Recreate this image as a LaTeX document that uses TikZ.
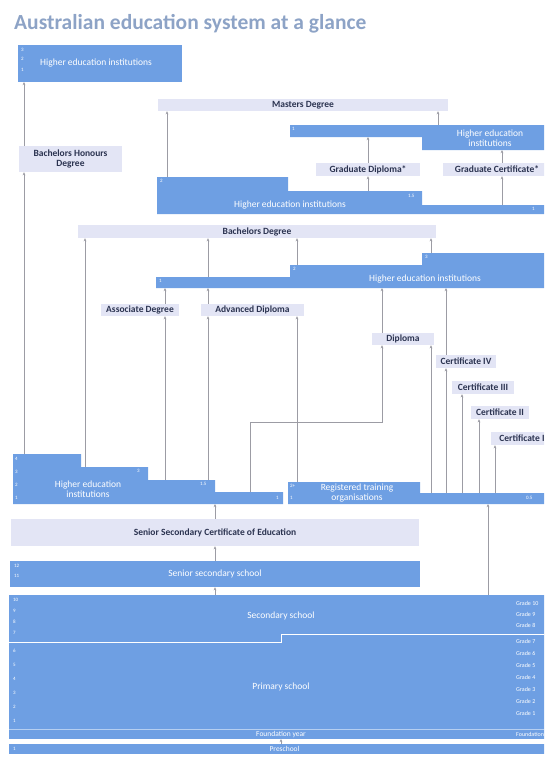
\documentclass[tikz,border=0pt]{standalone}
\usepackage{fontspec}
\setmainfont{Carlito}
\usepackage{tikz}
\usetikzlibrary{arrows.meta,calc}
\definecolor{instBlue}{HTML}{6E9FE3}
\definecolor{awardLav}{HTML}{E3E5F5}
\definecolor{awardText}{HTML}{2B3350}
\definecolor{linkGrey}{HTML}{9C9CA4}
\definecolor{titleGrey}{HTML}{8DA3C6}

\begin{document}
\begin{tikzpicture}[x=1pt, y=-1pt,
  award/.style={fill=awardLav, text=awardText, font=\fontsize{9.5}{10}\selectfont\bfseries, inner sep=0pt, align=center},
  inst/.style={text=white, font=\fontsize{9.5}{10}\selectfont, inner sep=0pt, align=center},
  band/.style={text=white, font=\fontsize{7.5}{8}\selectfont, inner sep=0pt, align=center},
  yrs/.style={text=white, font=\fontsize{5}{5}\selectfont, inner sep=0pt, anchor=west},
  grade/.style={text=white, font=\fontsize{6}{6}\selectfont, inner sep=0pt, anchor=west},
  link/.style={draw=linkGrey, line width=0.6pt, -{Stealth[length=3.2pt, width=2.8pt]}}]
  \useasboundingbox (0,0) rectangle (544,761);
  \clip (0,0) rectangle (544,761);

  \node[anchor=base west, inner sep=0pt, text=titleGrey, font=\fontsize{21.5}{23}\selectfont\bfseries] (title) at (14,29) {Australian education system at a glance};

  % Doctoral level
  \fill[instBlue] (18,45) rectangle (182,82);
  \node[inst] (phd) at (96,63) {Higher education institutions};
  \node[yrs] (phd3) at (21,50) {3};
  \node[yrs] (phd2) at (21,59) {2};
  \node[yrs] (phd1) at (21,70) {1};
  \coordinate (phdBot) at (24,82);

  % Masters level
  \node[award, minimum width=290, minimum height=12] (masters) at (303,105) {Masters Degree};
  \fill[instBlue] (290,125) -- (560,125) -- (560,150) -- (422,150) -- (422,137) -- (290,137) -- cycle;
  \node[inst] (upInst) at (490,138) {Higher education\\institutions};
  \node[yrs] (up1) at (292,129) {1};
  \coordinate (upA) at (438,125);
  \coordinate (upB) at (368,137);
  \coordinate (upC) at (502,150);

  \node[award, minimum width=104, minimum height=13] (gradDip) at (368,169.5) {Graduate Diploma*};
  \node[award, minimum width=108, minimum height=13] (gradCert) at (497,169.5) {Graduate Certificate*};

  \fill[instBlue] (157,177) -- (288,177) -- (288,191) -- (422,191) -- (422,205) -- (560,205) -- (560,214) -- (157,214) -- cycle;
  \node[inst] (wideInst) at (290,205) {Higher education institutions};
  \node[yrs] (wide2) at (160,181) {2};
  \node[yrs] (wide15) at (408,196) {1.5};
  \node[yrs] (wide1) at (532,209) {1};
  \coordinate (wideA) at (167,177);
  \coordinate (wideB) at (368,191);
  \coordinate (wideC) at (502,205);

  % Bachelors level
  \node[award, minimum width=103, minimum height=26] (honours) at (70.5,159) {Bachelors Honours\\Degree};
  \node[award, minimum width=358, minimum height=13] (bachelors) at (257,231.5) {Bachelors Degree};
  \fill[instBlue] (156,277) -- (290,277) -- (290,265) -- (422,265) -- (422,253) -- (560,253) -- (560,288) -- (156,288) -- cycle;
  \node[inst] (heiInst) at (425,279) {Higher education institutions};
  \node[yrs] (hei1) at (159,281) {1};
  \node[yrs] (hei2) at (293,269) {2};
  \node[yrs] (hei3) at (425,257) {3};
  \coordinate (heiA) at (208,277);
  \coordinate (heiB) at (297,265);
  \coordinate (heiC) at (431,253);
  \coordinate (heiBot) at (300,288);

  % Vocational awards
  \node[award, minimum width=78, minimum height=12] (assoc) at (140,310) {Associate Degree};
  \node[award, minimum width=103, minimum height=12] (advDip) at (252.5,310) {Advanced Diploma};
  \node[award, minimum width=62, minimum height=12] (diploma) at (403,339) {Diploma};
  \node[award, minimum width=60, minimum height=13] (certIV) at (466,361.5) {Certificate IV};
  \node[award, minimum width=62, minimum height=13] (certIII) at (483,387.5) {Certificate III};
  \node[award, minimum width=58, minimum height=13] (certII) at (500,412.5) {Certificate II};
  \node[award, minimum width=62, minimum height=13] (certI) at (522,438.5) {Certificate I};

  % Higher education (stepped) and RTO
  \fill[instBlue] (13,454) -- (81,454) -- (81,467) -- (148,467) -- (148,480) -- (215,480) -- (215,492) -- (283,492) -- (283,504) -- (13,504) -- cycle;
  \node[inst] (llInst) at (88,489) {Higher education\\institutions};
  \node[yrs] (ll4y) at (15,459) {4};
  \node[yrs] (ll3y) at (15,472) {3};
  \node[yrs] (ll2y) at (15,485) {2};
  \node[yrs] (ll1y) at (15,498) {1};
  \node[yrs] (llStep2) at (137,471) {3};
  \node[yrs] (llStep3) at (200,484) {1.5};
  \node[yrs] (llStep4) at (276,498) {1};
  \coordinate (ll1) at (24,454);
  \coordinate (ll2) at (85,467);
  \coordinate (ll3) at (165,480);
  \coordinate (ll4) at (208,480);
  \coordinate (ll5) at (250,492);
  \coordinate (llBot) at (215,504);
  \coordinate (dipL) at (382,422);

  \fill[instBlue] (288,482) -- (420,482) -- (420,493) -- (560,493) -- (560,504) -- (288,504) -- cycle;
  \node[inst] (rto) at (357,493) {Registered training\\organisations};
  \node[yrs] (rto2) at (290,486) {2+};
  \node[yrs] (rto1) at (290,498) {1};
  \node[yrs] (rto05) at (526,498) {0.5};
  \coordinate (rtoA) at (297,482);
  \coordinate (rtoB) at (431,493);
  \coordinate (rtoC4) at (446,493);
  \coordinate (rtoC3) at (462,493);
  \coordinate (rtoC2) at (479,493);
  \coordinate (rtoC1) at (495,493);
  \coordinate (rtoBot) at (488,504);

  % School
  \node[award, minimum width=408, minimum height=27] (ssce) at (215,532.5) {Senior Secondary Certificate of Education};
  \node[inst, fill=instBlue, minimum width=410, minimum height=26] (senSec) at (215,574) {Senior secondary school};
  \node[yrs] (sen12) at (14,566) {12};
  \node[yrs] (sen11) at (14,576) {11};

  \fill[instBlue] (9,595) rectangle (560,739);
  \draw[white, line width=0.8pt] (9,642) -- (281,642) -- (281,634) -- (560,634);
  \draw[white, opacity=0.5, line width=0.5pt] (9,729) -- (560,729);
  \node[inst] (secSchool) at (281,616) {Secondary school};
  \node[inst] (priSchool) at (281,687) {Primary school};
  \node[band] (foundYear) at (281,734.5) {Foundation year};
  \foreach \n/\y in {10/600, 9/611, 8/622, 7/633, 6/651, 5/665, 4/679, 3/693, 2/707, 1/721}
    \node[yrs] (yr\n) at (13,\y) {\n};
  \foreach \n/\y in {10/603, 9/614, 8/625, 7/641, 6/653, 5/665, 4/677, 3/689, 2/701, 1/713}
    \node[grade] (gr\n) at (516,\y) {Grade \n};
  \node[grade] (grF) at (516,734) {Foundation};
  \coordinate (bigTop) at (215,595);
  \coordinate (bigRto) at (488,595);
  \coordinate (bigBot) at (281,739);

  \node[band, fill=instBlue, minimum width=551, minimum height=10] (pre) at (284.5,749) {Preschool};
  \node[yrs] (pre1) at (13,749) {1};

  % Pathways
  \draw[link] (ll1) -- (ll1 |- honours.south);
  \draw[link] (ll1 |- honours.north) -- (phdBot);
  \draw[link] (wideA) -- (wideA |- masters.south);
  \draw[link] (upA) -- (upA |- masters.south);
  \draw[link] (gradDip.north) -- (upB);
  \draw[link] (wideB) -- (gradDip.south);
  \draw[link] (upC |- gradCert.north) -- (upC);
  \draw[link] (wideC) -- (wideC |- gradCert.south);
  \draw[link] (ll2) -- (ll2 |- bachelors.south);
  \draw[link] (heiA) -- (heiA |- bachelors.south);
  \draw[link] (heiB) -- (heiB |- bachelors.south);
  \draw[link] (heiC) -- (heiC |- bachelors.south);
  \draw[link] (ll3 |- assoc.north) -- (ll3 |- heiBot);
  \draw[link] (ll4 |- advDip.north) -- (ll4 |- heiBot);
  \draw[link] (dipL |- diploma.north) -- (dipL |- heiBot);
  \draw[link] (rtoC4 |- certIV.north) -- (rtoC4 |- heiBot);
  \draw[link] (ll3) -- (ll3 |- assoc.south);
  \draw[link] (ll4) -- (ll4 |- advDip.south);
  \draw[link] (rtoA) -- (rtoA |- advDip.south);
  \draw[link] (ll5) |- (dipL) -- (dipL |- diploma.south);
  \draw[link] (rtoB) -- (rtoB |- diploma.south);
  \draw[link] (rtoC4) -- (rtoC4 |- certIV.south);
  \draw[link] (rtoC3) -- (rtoC3 |- certIII.south);
  \draw[link] (rtoC2) -- (rtoC2 |- certII.south);
  \draw[link] (rtoC1) -- (rtoC1 |- certI.south);
  \draw[link] (llBot |- ssce.north) -- (llBot);
  \draw[link] (senSec.north) -- (ssce.south);
  \draw[link] (bigTop) -- (senSec.south);
  \draw[link] (bigRto) -- (rtoBot);
  \draw[link] (bigBot |- pre.north) -- (bigBot);
\end{tikzpicture}
\end{document}
